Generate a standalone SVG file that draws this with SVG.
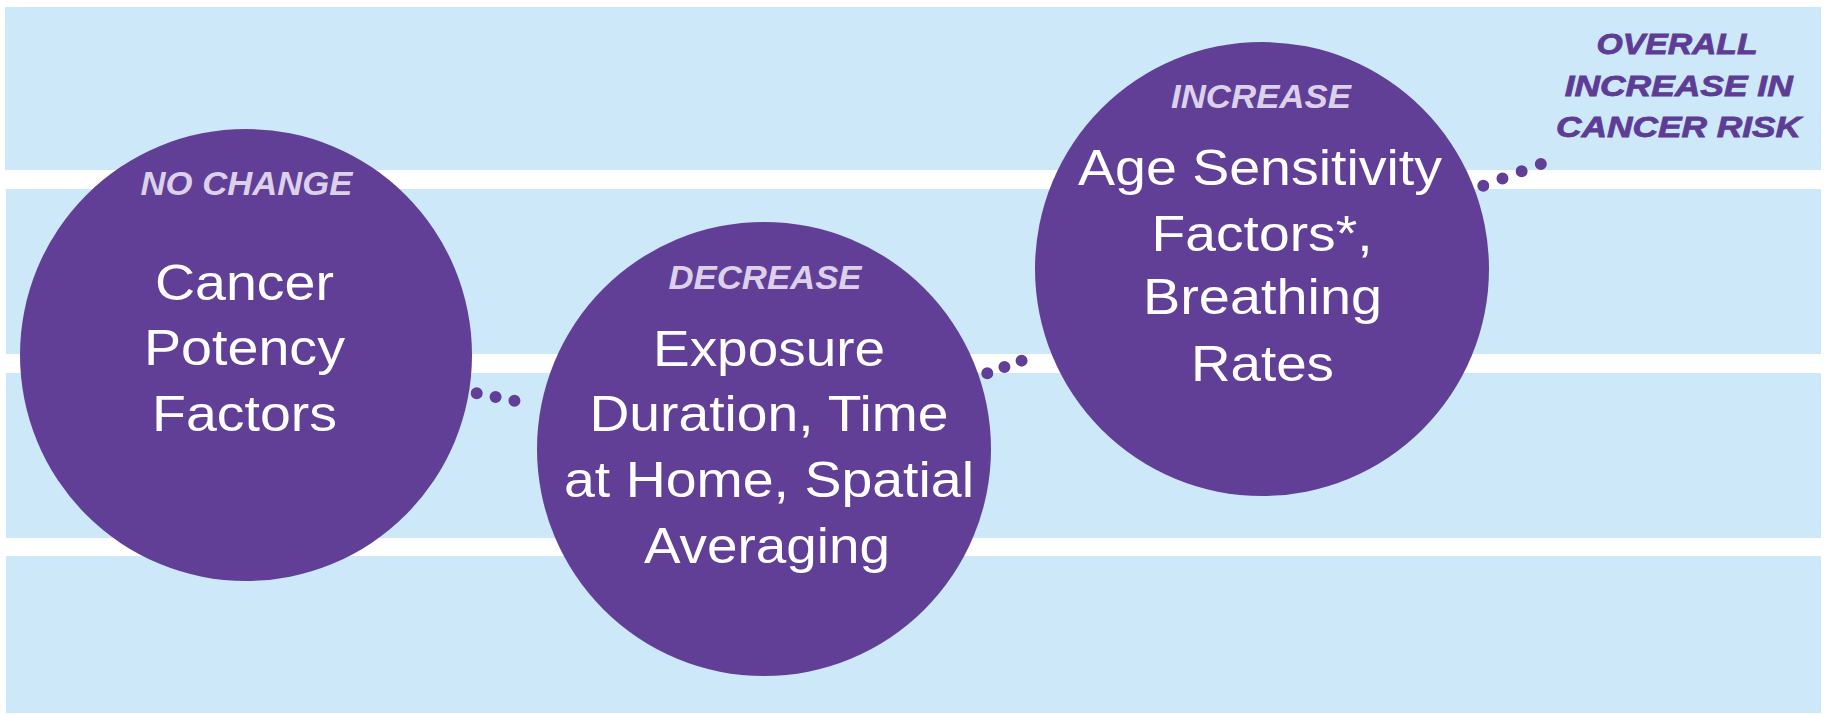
<svg xmlns="http://www.w3.org/2000/svg" width="1825" height="715" viewBox="0 0 1825 715">
  <style>
    .band { fill: #cce8f9; }
    .node { fill: #623f97; }
    .tag { font-family: "Liberation Sans", Arial, sans-serif; font-weight: bold; font-style: italic; font-size: 33px; fill: #dcd1ea; text-anchor: middle; }
    .body { font-family: "Liberation Sans", Arial, sans-serif; font-size: 50px; fill: #ffffff; text-anchor: middle; }
    .result { font-family: "Liberation Sans", Arial, sans-serif; font-weight: bold; font-style: italic; font-size: 29px; fill: #5e3c95; stroke: #5e3c95; stroke-width: 0.8; text-anchor: middle; }
    .dots { fill: none; stroke: #623f97; stroke-width: 12; stroke-linecap: round; }
  </style>

  <rect width="1825" height="715" fill="#ffffff"/>

  <!-- background bands -->
  <g id="bands">
    <rect class="band" x="5" y="7" width="1816" height="163"/>
    <rect class="band" x="6" y="189" width="1815" height="165"/>
    <rect class="band" x="6" y="373" width="1815" height="165"/>
    <rect class="band" x="6" y="556" width="1815" height="157"/>
  </g>

  <!-- dotted links between the circles -->
  <g id="connectors">
    <path class="dots" d="M476.7,393.3 L533.3,404.3" stroke-dasharray="0 19.23"/>
    <path class="dots" d="M987.3,373.3 L1038.7,354.3" stroke-dasharray="0 18.27"/>
    <path class="dots" d="M1483.3,185.7 L1560,156.7" stroke-dasharray="0 20.5"/>
  </g>

  <g id="node-cancer-potency">
    <circle class="node" cx="246" cy="355" r="226"/>
    <text class="tag" x="246.5" y="195" textLength="212" lengthAdjust="spacingAndGlyphs">NO CHANGE</text>
    <text class="body" x="244.5" y="299.6" textLength="179" lengthAdjust="spacingAndGlyphs">Cancer</text>
    <text class="body" x="244.5" y="364.8" textLength="201" lengthAdjust="spacingAndGlyphs">Potency</text>
    <text class="body" x="244.5" y="431" textLength="185" lengthAdjust="spacingAndGlyphs">Factors</text>
  </g>

  <g id="node-exposure">
    <circle class="node" cx="764" cy="449" r="227"/>
    <text class="tag" x="765" y="289" textLength="193" lengthAdjust="spacingAndGlyphs">DECREASE</text>
    <text class="body" x="769" y="365.7" textLength="232" lengthAdjust="spacingAndGlyphs">Exposure</text>
    <text class="body" x="769" y="431" textLength="359" lengthAdjust="spacingAndGlyphs">Duration, Time</text>
    <text class="body" x="769" y="496.7" textLength="410" lengthAdjust="spacingAndGlyphs">at Home, Spatial</text>
    <text class="body" x="767" y="562.7" textLength="246" lengthAdjust="spacingAndGlyphs">Averaging</text>
  </g>

  <g id="node-age-sensitivity">
    <circle class="node" cx="1262" cy="269" r="227"/>
    <text class="tag" x="1261" y="108.3" textLength="180" lengthAdjust="spacingAndGlyphs">INCREASE</text>
    <text class="body" x="1260" y="184.5" textLength="364" lengthAdjust="spacingAndGlyphs">Age Sensitivity</text>
    <text class="body" x="1262" y="250.5" textLength="221" lengthAdjust="spacingAndGlyphs">Factors*,</text>
    <text class="body" x="1262.5" y="314" textLength="239" lengthAdjust="spacingAndGlyphs">Breathing</text>
    <text class="body" x="1262.5" y="381" textLength="143" lengthAdjust="spacingAndGlyphs">Rates</text>
  </g>

  <g id="node-overall">
    <text class="result" x="1677" y="54.3" textLength="161" lengthAdjust="spacingAndGlyphs">OVERALL</text>
    <text class="result" x="1678.7" y="96" textLength="228" lengthAdjust="spacingAndGlyphs">INCREASE IN</text>
    <text class="result" x="1678.6" y="136.7" textLength="245" lengthAdjust="spacingAndGlyphs">CANCER RISK</text>
  </g>
</svg>
